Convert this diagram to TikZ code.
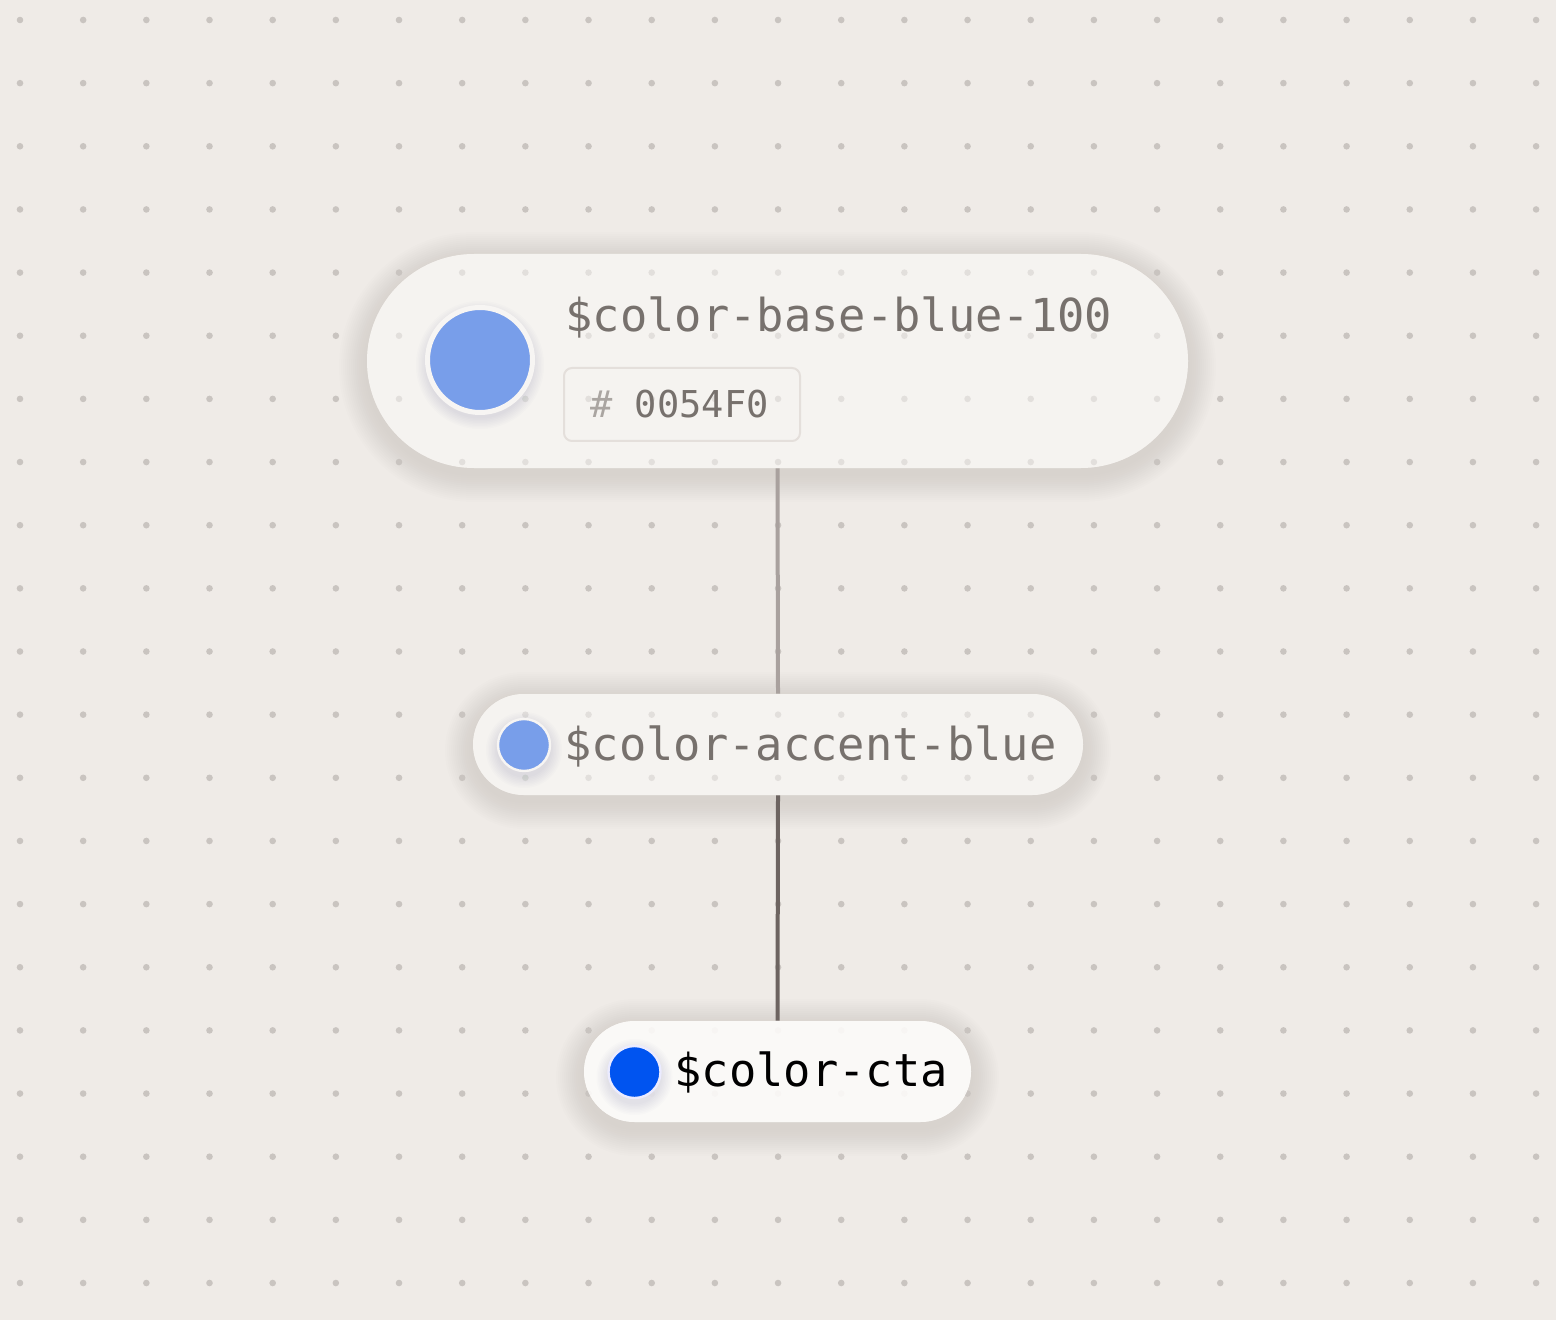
\documentclass[tikz,border=0pt]{standalone}
\usepackage{fontspec}
\newfontfamily\monofont{DejaVu Sans Mono}
\definecolor{bg}{HTML}{EFEBE7}
\definecolor{dotc}{HTML}{C9C4C0}
\definecolor{pillfill}{HTML}{FCFBF9}
\definecolor{txtgray}{HTML}{77716D}
\definecolor{hashgray}{HTML}{AAA5A1}
\definecolor{hexborder}{HTML}{E4DFDB}
\definecolor{softblue}{HTML}{789EEA}
\definecolor{ctablue}{HTML}{0054F0}
\definecolor{linelight}{HTML}{A9A19E}
\definecolor{linedark}{HTML}{6D6461}
\definecolor{ringc}{HTML}{F7F5F3}
\definecolor{shadowc}{HTML}{5E5853}
\definecolor{swshadowc}{HTML}{4A5A80}
% soft shadow of a pill: x1 y1 x2 y2 radius(pt)
\newcommand\pillpath[5]{%
  \foreach \k in {1,...,14}{%
    \pgfmathsetmacro\rr{#5+\k}%
    \fill[shadowc,opacity=0.006] ({#1-2*\k},{#2-2*\k+6}) [rounded corners=\rr pt] rectangle ({#3+2*\k},{#4+2*\k+6});}%
  \fill[bg] (#1,#2) [rounded corners=#5pt] rectangle (#3,#4);}
% soft shadow of a swatch: x y radius(px)
\newcommand\swshadow[3]{%
  \foreach \k in {1,...,8}{%
    \fill[swshadowc,opacity=0.016] (#1,{#2+5}) circle ({(#3+1.5*\k)*0.5pt});}}
\begin{document}
\begin{tikzpicture}[x=0.5pt,y=-0.5pt,
  pill/.style={rectangle,inner sep=0pt,fill=pillfill,fill opacity=0.5},
  swatch/.style={circle,inner sep=0pt,draw=ringc},
  token/.style={anchor=base west,inner sep=0pt,font=\monofont\fontsize{22.7pt}{27pt}\selectfont},
  conn/.style={line width=2pt}]
\useasboundingbox (0,0) rectangle (1556,1320);
\fill[bg] (0,0) rectangle (1556,1320);
% shadows of the pills, erased inside
\pillpath{367}{254}{1188}{468}{53.5}
\pillpath{473}{694}{1083}{795}{25.25}
\pillpath{584}{1021}{971}{1122}{25.25}
% dot grid
\foreach \i in {0,...,24}
  \foreach \j in {0,...,20}
    \fill[dotc] ({20+63.17*\i},{20+63.15*\j}) circle (1.65pt);
% pills
\node[pill,minimum width=410.5pt,minimum height=107pt,rounded corners=53.5pt] (base) at (777.5,361) {};
\node[pill,minimum width=305pt,minimum height=50.5pt,rounded corners=25.25pt] (accent) at (778,744.5) {};
\node[pill,fill opacity=0.9,minimum width=193.5pt,minimum height=50.5pt,rounded corners=25.25pt] (cta) at (777.5,1071.5) {};
% connectors
\draw[conn,linelight] (base.south) -- (accent.north);
\draw[conn,linedark] (accent.south) -- (cta.north);
% swatches
\swshadow{480}{360}{52}
\swshadow{524}{745}{26}
\swshadow{634.5}{1072}{26}
\node[swatch,fill=softblue,minimum size=52.5pt,line width=2.5pt] (sw1) at (480,360) {};
\node[swatch,fill=softblue,minimum size=26pt,line width=1.2pt] (sw2) at (524,745) {};
\node[swatch,fill=ctablue,draw=white!92!blue,minimum size=26pt,line width=1.2pt] (sw3) at (634.5,1072) {};
% labels
\node[token,text=txtgray] (t1) at (565,332) {\$color-base-blue-100};
\node[rectangle,draw=hexborder,line width=1pt,rounded corners=4pt,minimum width=118pt,minimum height=36.5pt,inner sep=0pt] (hexbox) at (682,404.5) {};
\node[token,font=\monofont\fontsize{18.5pt}{22pt}\selectfont,text=txtgray] (hex) at (590,418) {\textcolor{hashgray}{\#} 0054F0};
\node[token,text=txtgray] (t2) at (564,760) {\$color-accent-blue};
\node[token,text=black] (t3) at (674,1086) {\$color-cta};
\end{tikzpicture}
\end{document}
